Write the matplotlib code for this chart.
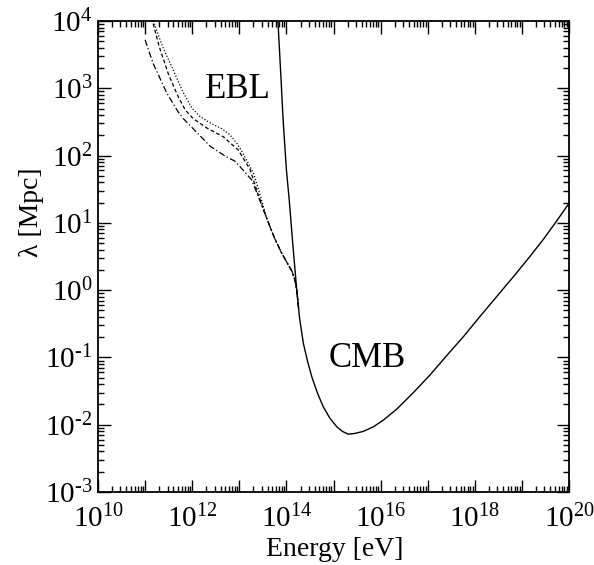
import numpy as np
import matplotlib
matplotlib.use("Agg")
import matplotlib.pyplot as plt
import matplotlib.ticker as mticker

# values (log10 E [eV], log10 lambda [Mpc])
cmb_logE = [13.80, 13.82, 13.88, 13.93, 14.00, 14.06, 14.14, 14.22, 14.28,
            14.36, 14.45, 14.54, 14.66, 14.78, 14.92, 15.07, 15.19, 15.31,
            15.45, 15.63, 15.85, 16.06, 16.34, 16.70, 17.05, 17.47, 17.76,
            18.10, 18.46, 18.82, 19.17, 19.45, 19.72, 20.00]
cmb_logL = [4.27, 4.00, 3.22, 2.53, 1.79, 1.34, 0.65, 0.00, -0.42,
            -0.79, -1.06, -1.29, -1.53, -1.73, -1.90, -2.03, -2.10, -2.14,
            -2.13, -2.10, -2.03, -1.93, -1.77, -1.52, -1.26, -0.92, -0.69,
            -0.40, -0.10, 0.20, 0.50, 0.75, 1.01, 1.29]

# shared tail of the three EBL+CMB curves
tail_logE = [13.58, 13.75, 13.90, 14.02, 14.12, 14.18, 14.22, 14.26]
tail_logL = [1.07, 0.77, 0.55, 0.40, 0.28, 0.15, 0.00, -0.28]

dot_logE = [11.16, 11.18, 11.37, 11.56, 11.80, 12.00, 12.15, 12.30, 12.45,
            12.63, 12.80, 12.95, 13.08, 13.30, 13.44]
dot_logL = [4.05, 3.99, 3.62, 3.33, 2.95, 2.70, 2.59, 2.52, 2.46,
            2.40, 2.31, 2.18, 2.03, 1.74, 1.42]

dash_logE = [11.14, 11.16, 11.30, 11.50, 11.70, 11.85, 12.02, 12.31, 12.66,
             12.98, 13.23, 13.40]
dash_logL = [4.05, 3.99, 3.62, 3.20, 2.88, 2.68, 2.55, 2.41, 2.28,
             2.08, 1.79, 1.42]

dd_logE = [11.00, 11.17, 11.46, 11.70, 11.81, 12.02, 12.20, 12.38, 12.55,
           12.73, 12.90, 13.01, 13.26, 13.40]
dd_logL = [3.72, 3.37, 2.93, 2.65, 2.55, 2.40, 2.27, 2.14, 2.06,
           1.98, 1.92, 1.84, 1.64, 1.40]

plt.rcParams.update({"font.family": "Liberation Serif", "font.size": 20,
                     "mathtext.fontset": "custom",
                     "mathtext.rm": "Liberation Serif",
                     "mathtext.it": "Liberation Serif",
                     "axes.unicode_minus": False})

fig = plt.figure(figsize=(5.94, 5.65), dpi=100)
ax = fig.add_axes([98 / 594, 73 / 565, 471 / 594, 471 / 565])


def pw(a):
    return 10.0 ** np.asarray(a)


ax.plot(pw(cmb_logE), pw(cmb_logL), color="black", lw=1.0)
ax.plot(pw(dot_logE + tail_logE), pw(dot_logL + tail_logL), color="black",
        lw=0.9, ls=(0, (1, 1.5)))
ax.plot(pw(dash_logE + tail_logE), pw(dash_logL + tail_logL), color="black",
        lw=0.9, ls=(0, (3, 2)))
ax.plot(pw(dd_logE + tail_logE), pw(dd_logL + tail_logL), color="black",
        lw=0.9, ls=(0, (5, 2, 1, 2)))

ax.set_xscale("log")
ax.set_yscale("log")
ax.set_xlim(1e10, 1e20)
ax.set_ylim(1e-3, 1e4)


def fmt_x(v, pos):
    e = int(round(np.log10(v)))
    if e % 2:
        return ""
    return r"$\mathregular{10^{%d}}$" % e


def fmt_y(v, pos):
    e = int(round(np.log10(v)))
    s = str(e).replace("-", "\u2010")
    return r"$\mathregular{10^{%s}}$" % s


ax.xaxis.set_major_locator(mticker.LogLocator(base=10, numticks=20))
ax.xaxis.set_minor_locator(mticker.LogLocator(base=10, subs=np.arange(2, 10),
                                              numticks=20))
ax.yaxis.set_major_locator(mticker.LogLocator(base=10, numticks=20))
ax.yaxis.set_minor_locator(mticker.LogLocator(base=10, subs=np.arange(2, 10),
                                              numticks=20))
ax.xaxis.set_major_formatter(mticker.FuncFormatter(fmt_x))
ax.yaxis.set_major_formatter(mticker.FuncFormatter(fmt_y))
ax.xaxis.set_minor_formatter(mticker.NullFormatter())
ax.yaxis.set_minor_formatter(mticker.NullFormatter())

ax.tick_params(which="both", direction="in", top=True, right=True,
               labelsize=21, width=1.0)
ax.tick_params(which="major", length=9)
ax.tick_params(axis="x", which="major", pad=9)
ax.tick_params(axis="y", which="major", pad=4)
ax.tick_params(which="minor", length=4.5)
for s in ax.spines.values():
    s.set_linewidth(1.3)

ax.text(10 ** 12.97, 10 ** 2.98, "EBL", fontsize=25, ha="center", va="center")
ax.text(10 ** 15.72, 10 ** -1.02, "CMB", fontsize=25, ha="center", va="center")

fig.text(335 / 594, 1 - 549 / 565, "Energy [eV]", fontsize=20,
         ha="center", va="center")
fig.text(31 / 594, 1 - 212 / 565, "\u03bb [Mpc]", fontsize=20,
         ha="center", va="center", rotation=90)

fig.savefig("out.png", dpi=100)
